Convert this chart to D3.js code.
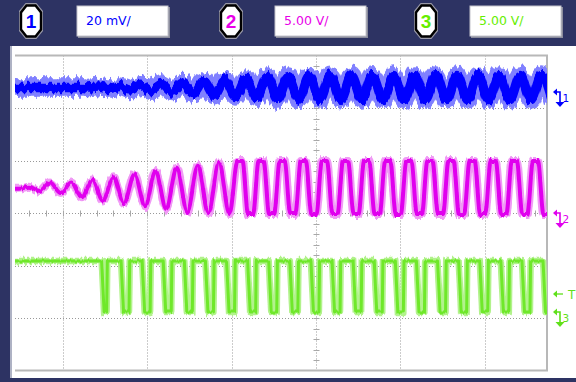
<!DOCTYPE html>
<html><head><meta charset="utf-8">
<script src="https://cdn.jsdelivr.net/npm/d3@7"></script>
<style>html,body{margin:0;padding:0;background:#2d3363;}svg{display:block;}</style>
</head><body>
<script>
// ---------- DATA (time in divisions, values in channel units) ----------
const channelLabels = ["1", "2", "3"];
const scaleLabels = ["20 mV/", "5.00 V/", "5.00 V/"];
const voltsPerDiv = [20, 5, 5];          // CH1 mV/div, CH2 V/div, CH3 V/div
const refOffsetDiv = [2.305, 0.0, -1.886]; // ground-marker position (div)
const triggerLevelV = 1.7;               // CH3 trigger level (V)
const xGridDivs = [-3, -2, -1, 1, 2];
const yGridDivs = [-2, -1, 1, 2];

// CH1 (blue) : peak times and peak amplitude (mV) about its centre
const ch1Centre = 1.7;
const ch1PeakT = [-2.58,-2.33,-2.08,-1.83,-1.58,-1.33,-1.08,-0.83,-0.58,-0.33,-0.08,0.17,0.42,0.67,0.92,1.17,1.42,1.67,1.92,2.17,2.42,2.67];
const ch1Amp   = [0.2,0.4,0.9,1.2,1.7,2.3,2.9,3.4,3.8,4.2,4.4,4.5,4.5,4.6,4.6,4.6,4.6,4.6,4.6,4.6,4.6,4.6];

// CH2 (magenta): peak times, peak volts, following trough volts
const ch2Start = 2.3;
const ch2PeakT   = [-3.40,-3.15,-2.90,-2.65,-2.40,-2.15,-1.90,-1.65,-1.40,-1.15,-0.90,-0.65,-0.40,-0.15,0.10,0.35,0.60,0.85,1.10,1.35,1.60,1.85,2.10,2.35,2.60];
const ch2PeakV   = [2.5,2.9,2.9,3.1,3.4,3.7,4.0,4.3,4.5,4.8,4.95,4.95,4.95,4.95,4.95,4.95,4.95,4.95,4.95,4.95,4.95,4.95,4.95,4.95,4.95];
const ch2TroughV = [2.1,1.9,1.5,1.2,0.95,0.65,0.4,0.1,0.0,-0.1,-0.1,-0.1,-0.1,-0.1,-0.1,-0.1,-0.1,-0.1,-0.1,-0.1,-0.1,-0.1,-0.1,-0.1,-0.1];

// CH3 (green): square wave edges
const ch3High = 4.85, ch3Low = 0.0;
const ch3Fall = [-2.54,-2.31,-2.06,-1.81,-1.56,-1.31,-1.06,-0.81,-0.56,-0.31,-0.06,0.19,0.44,0.69,0.94,1.19,1.44,1.69,1.94,2.19,2.44,2.69];
const ch3Rise = [-2.48,-2.215,-1.965,-1.715,-1.465,-1.215,-0.965,-0.715,-0.465,-0.215,0.035,0.285,0.535,0.785,1.035,1.285,1.535,1.785,2.035,2.285,2.535];

// ---------- STYLE ----------
const W = 576, H = 382;
const bg = "#2d3363";
const chColor = ["#0000ff", "#e000ee", "#6fe82a"];
const chHalo  = ["#8080ff", "#f09af5", "#b2f28c"];
const labelColor = ["#0000ff", "#e800e8", "#66ee00"];
const markColor = ["#0000ff", "#e000ee", "#5fe01a"];

const svg = d3.select("body").append("svg").attr("width", W).attr("height", H);
svg.append("rect").attr("width", W).attr("height", H).attr("fill", bg);

// white screen panel
svg.append("rect").attr("x", 10).attr("y", 46).attr("width", W - 10).attr("height", 332).attr("fill", "#ffffff");
svg.append("line").attr("x1", 11).attr("x2", 11).attr("y1", 46).attr("y2", 378).attr("stroke", "#aeb2c4").attr("stroke-width", 2);

// ---------- header ----------
const badgeX = [31, 231, 426];
const boxX = [77, 275, 470];
const head = svg.append("g");
channelLabels.forEach((c, i) => {
  const cx = badgeX[i], cy = 21;
  const oct = (rx, ry) => {
    const k = 0.45;
    return `M${cx - rx * k},${cy - ry} L${cx + rx * k},${cy - ry} L${cx + rx},${cy - ry * 0.55} L${cx + rx},${cy + ry * 0.55} L${cx + rx * k},${cy + ry} L${cx - rx * k},${cy + ry} L${cx - rx},${cy + ry * 0.55} L${cx - rx},${cy - ry * 0.55} Z`;
  };
  head.append("path").attr("d", oct(12, 18)).attr("fill", "#9a9aa8");
  head.append("path").attr("d", oct(10, 15.5)).attr("fill", "#ffffff").attr("stroke", "#000").attr("stroke-width", 2.4);
  head.append("text").attr("x", cx).attr("y", cy + 6.5).attr("text-anchor", "middle")
    .attr("font-family", "Liberation Sans, Arial, sans-serif").attr("font-weight", "bold").attr("font-size", 19)
    .attr("fill", labelColor[i]).text(c);
  head.append("rect").attr("x", boxX[i] + 1).attr("y", 7).attr("width", 92).attr("height", 31).attr("fill", "#8a8c9c");
  head.append("rect").attr("x", boxX[i]).attr("y", 6).attr("width", 91).attr("height", 30).attr("fill", "#ffffff")
    .attr("stroke", "#c4c4cc").attr("stroke-width", 1);
  head.append("text").attr("x", boxX[i] + 9).attr("y", 25)
    .attr("font-family", "DejaVu Sans, sans-serif").attr("font-size", 12.5)
    .attr("fill", labelColor[i]).text(scaleLabels[i]);
});

// ---------- scales ----------
const x = d3.scaleLinear().domain([-3.566, 2.737]).range([15, 547]);
const y = d3.scaleLinear().domain([-3, 3]).range([370.5, 55.5]);
const toDiv = (ch, v) => v / voltsPerDiv[ch] + refOffsetDiv[ch];

// ---------- grid ----------
const grid = svg.append("g").attr("stroke", "#999").attr("stroke-width", 1).attr("stroke-dasharray", "1,2");
grid.selectAll(".vg").data(xGridDivs.concat([0])).join("line")
  .attr("x1", d => Math.round(x(d)) + 0.5).attr("x2", d => Math.round(x(d)) + 0.5)
  .attr("y1", y(3)).attr("y2", y(-3));
grid.selectAll(".hg").data(yGridDivs.concat([0])).join("line")
  .attr("y1", d => Math.round(y(d)) + 0.5).attr("y2", d => Math.round(y(d)) + 0.5)
  .attr("x1", x.range()[0]).attr("x2", x.range()[1]);
// centre axis minor ticks
const ticks = svg.append("g").attr("stroke", "#a8a8a8").attr("stroke-width", 1);
const xt = d3.range(-17, 14).map(d => d * 0.2).filter(d => d > x.domain()[0] && d < x.domain()[1]);
ticks.selectAll(".xt").data(xt).join("line")
  .attr("x1", d => Math.round(x(d)) + 0.5).attr("x2", d => Math.round(x(d)) + 0.5)
  .attr("y1", Math.round(y(0)) - 2.5).attr("y2", Math.round(y(0)) + 3.5);
const yt = d3.range(-14, 15).map(d => d * 0.2);
ticks.selectAll(".yt").data(yt).join("line")
  .attr("y1", d => Math.round(y(d)) + 0.5).attr("y2", d => Math.round(y(d)) + 0.5)
  .attr("x1", Math.round(x(0)) - 2.5).attr("x2", Math.round(x(0)) + 3.5);

// frame
const frame = svg.append("g").attr("stroke", "#b8b8b8").attr("stroke-width", 2).attr("fill", "none");
frame.append("path").attr("d", `M${x.range()[0]},${y(3)} L${x.range()[1]},${y(3)} L${x.range()[1]},${y(-3)} L${x.range()[0]},${y(-3)}`);

// ---------- noise filters ----------
const defs = svg.append("defs");
function noiseFilter(id, fx, fy, seed, scale) {
  const f = defs.append("filter").attr("id", id).attr("filterUnits", "userSpaceOnUse")
    .attr("x", 0).attr("y", 40).attr("width", W).attr("height", 345)
    .attr("color-interpolation-filters", "sRGB");
  f.append("feTurbulence").attr("type", "fractalNoise").attr("baseFrequency", `${fx} ${fy}`)
    .attr("numOctaves", 2).attr("seed", seed).attr("result", "t");
  f.append("feColorMatrix").attr("in", "t").attr("type", "matrix")
    .attr("values", "0 0 0 0 0.5  1 0 0 0 0  0 0 0 0 0  0 0 0 0 1").attr("result", "m");
  f.append("feDisplacementMap").attr("in", "SourceGraphic").attr("in2", "m").attr("scale", scale)
    .attr("xChannelSelector", "R").attr("yChannelSelector", "G");
}
noiseFilter("nb1", 0.28, 0.02, 3, 15);
noiseFilter("nb2", 0.28, 0.02, 11, 15);
noiseFilter("nb3", 0.3, 0.02, 29, 9);
noiseFilter("nm1", 0.4, 0.03, 5, 7);
noiseFilter("nm2", 0.4, 0.03, 17, 5);
noiseFilter("ng1", 0.4, 0.03, 7, 7);
noiseFilter("ng2", 0.4, 0.03, 23, 4);

defs.append("clipPath").attr("id", "plotclip").append("rect")
  .attr("x", x.range()[0]).attr("y", 50).attr("width", x.range()[1] - x.range()[0]).attr("height", 325);

// ---------- build traces ----------
const ch1Pts = [[x.domain()[0], ch1Centre], [-2.75, ch1Centre]];
ch1PeakT.forEach((t, i) => {
  ch1Pts.push([t - 0.125, ch1Centre - ch1Amp[i]]);
  ch1Pts.push([t, ch1Centre + ch1Amp[i]]);
});
ch1Pts.push([ch1PeakT[ch1PeakT.length - 1] + 0.125, ch1Centre - ch1Amp[ch1Amp.length - 1]]);

const ch2Pts = [[x.domain()[0], ch2Start], [-3.52, ch2Start]];
ch2PeakT.forEach((t, i) => {
  const flat = ch2PeakV[i] >= 4.9 ? 0.03 : 0;
  if (flat) { ch2Pts.push([t - flat, ch2PeakV[i]]); ch2Pts.push([t + flat, ch2PeakV[i]]); }
  else ch2Pts.push([t, ch2PeakV[i]]);
  const tt = t + 0.125;
  if (flat) { ch2Pts.push([tt - flat, ch2TroughV[i]]); ch2Pts.push([tt + flat, ch2TroughV[i]]); }
  else ch2Pts.push([tt, ch2TroughV[i]]);
});

const ch3Pts = [[x.domain()[0], ch3High]];
ch3Fall.forEach((t, i) => {
  ch3Pts.push([t, ch3High]);
  ch3Pts.push([t + 0.03, ch3Low]);
  if (i < ch3Rise.length) {
    ch3Pts.push([ch3Rise[i], ch3Low]);
    ch3Pts.push([ch3Rise[i] + 0.008, ch3High]);
  }
});
ch3Pts.push([x.domain()[1], ch3Low]);

const lineFor = (ch, curve) => d3.line().x(d => x(d[0])).y(d => y(toDiv(ch, d[1]))).curve(curve);

const traces = svg.append("g").attr("clip-path", "url(#plotclip)").attr("fill", "none")
  .attr("stroke-linejoin", "round");

function drawTrace(pts, ch, curve, layers) {
  const d = lineFor(ch, curve)(pts);
  layers.forEach(L => {
    traces.append("path").attr("d", d).attr("stroke", L.color).attr("stroke-width", L.w)
      .attr("filter", `url(#${L.f})`);
  });
}
drawTrace(ch1Pts, 0, d3.curveMonotoneX, [
  { color: chHalo[0], w: 16.5, f: "nb1" }, { color: chHalo[0], w: 16.5, f: "nb2" },
  { color: chColor[0], w: 9.5, f: "nb3" }]);
drawTrace(ch2Pts, 1, d3.curveMonotoneX, [
  { color: chHalo[1], w: 8, f: "nm1" }, { color: chColor[1], w: 4, f: "nm2" }]);
drawTrace(ch3Pts, 2, d3.curveLinear, [
  { color: chHalo[2], w: 6.5, f: "ng1" }, { color: chColor[2], w: 3, f: "ng2" }]);

// ---------- right-hand markers ----------
const mk = svg.append("g");
[0, 1, 2].forEach(ch => {
  const yy = Math.round(y(refOffsetDiv[ch]));
  const col = markColor[ch];
  mk.append("path").attr("d", `M553,${yy} L557,${yy - 3.5} L557,${yy + 3.5} Z`).attr("fill", col);
  mk.append("path").attr("d", `M556,${yy} L560,${yy} L560,${yy + 11}`).attr("stroke", col).attr("stroke-width", 1.6).attr("fill", "none");
  mk.append("path").attr("d", `M555.5,${yy + 10} L564.5,${yy + 10} L560,${yy + 15} Z`).attr("fill", col);
  mk.append("text").attr("x", 562.5).attr("y", yy + 10).attr("font-family", "DejaVu Sans, sans-serif")
    .attr("font-size", 10.5).attr("fill", col).text(channelLabels[ch]);
});
// trigger marker
const ty = Math.round(y(toDiv(2, triggerLevelV)));
mk.append("path").attr("d", `M553,${ty} L557,${ty - 3.5} L557,${ty + 3.5} Z`).attr("fill", markColor[2]);
mk.append("line").attr("x1", 555).attr("x2", 563).attr("y1", ty).attr("y2", ty).attr("stroke", markColor[2]).attr("stroke-width", 1.3);
mk.append("text").attr("x", 568).attr("y", ty + 4.5).attr("font-family", "DejaVu Sans, sans-serif")
  .attr("font-size", 12).attr("fill", markColor[2]).text("T");
</script>
</body></html>
